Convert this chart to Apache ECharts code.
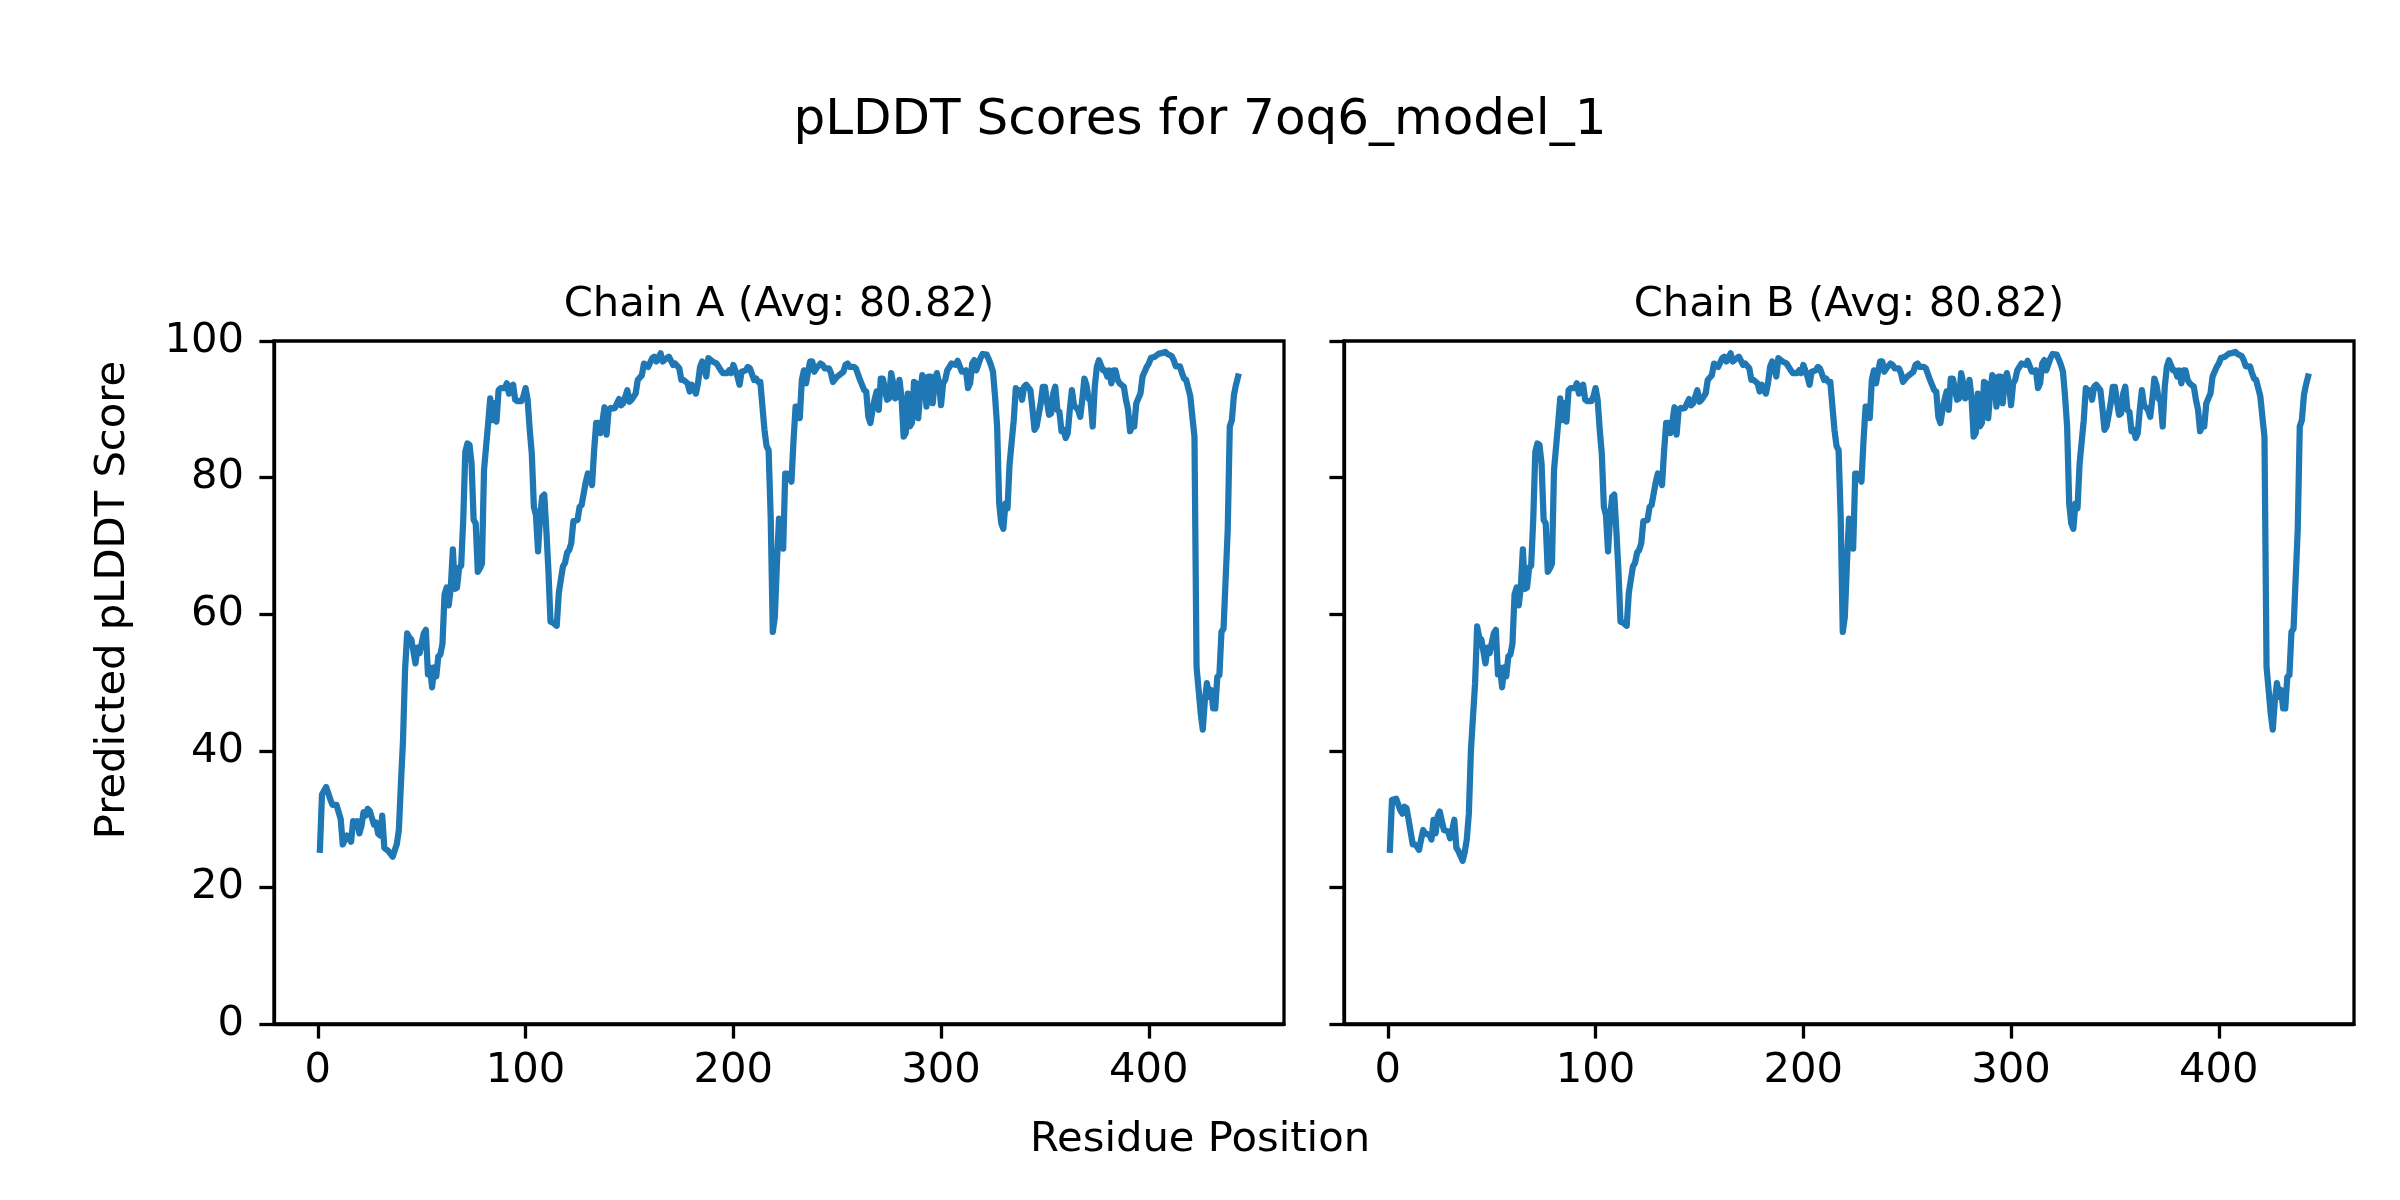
<!DOCTYPE html>
<html>
<head>
<meta charset="utf-8">
<script src="https://cdn.jsdelivr.net/npm/echarts@6/dist/echarts.min.js"></script>
<style>
  html, body { margin: 0; padding: 0; background: #fff; }
  #chart { width: 2400px; height: 1200px; }
</style>
</head>
<body>
<div id="chart"></div>
<script>
// ---- Data ----
const figureTitle = 'pLDDT Scores for 7oq6_model_1';
const chainTitles = ['Chain A (Avg: 80.82)', 'Chain B (Avg: 80.82)'];
const xAxisLabel = 'Residue Position';
const yAxisLabel = 'Predicted pLDDT Score';
const xTicks = [0, 100, 200, 300, 400];
const yTicks = [0, 20, 40, 60, 80, 100];

// Chain A: residue positions and pLDDT scores (vertices of the trace)
const residuesA = [
  1,2,4,6,7,9,11,12,14,16,17,18,19,20,21,22,23,24,25,27,28,29,30,31,32,34,36,38,39,40,
  41,42,43,44,45,46,47,48,49,51,52,53,54,55,56,57,58,59,60,61,62,63,64,65,66,67,68,69,70,71,
  72,73,74,75,76,77,78,79,80,82,83,84,85,86,87,88,90,91,92,93,94,95,96,98,99,100,101,102,103,104,
  105,106,107,108,109,110,111,112,113,115,116,117,118,119,120,121,122,123,125,126,127,128,129,130,131,132,133,134,135,136,
  137,138,139,140,141,142,143,145,146,147,149,150,151,153,154,156,157,159,161,162,163,165,166,168,169,171,172,174,175,176,
  178,179,180,182,183,184,185,187,188,190,192,194,195,197,198,199,200,202,203,204,206,207,208,210,211,212,213,214,215,216,
  217,218,219,220,221,222,223,224,225,226,228,229,230,231,232,233,234,235,236,237,238,239,240,242,243,244,246,247,248,250,
  251,253,254,255,256,258,259,261,263,264,265,266,267,268,269,270,271,272,274,275,276,277,278,279,280,281,282,283,284,285,
  286,287,288,289,290,291,292,293,294,295,296,297,298,299,300,301,302,303,305,307,308,310,311,312,313,314,315,316,317,319,
  320,322,323,324,325,326,327,328,329,330,331,332,333,335,336,337,338,339,340,341,343,344,345,346,348,349,350,351,352,353,
  354,355,356,357,358,359,360,361,362,363,364,366,367,368,369,370,371,372,373,374,375,376,378,379,380,381,382,383,384,385,
  386,388,389,390,391,392,393,394,396,397,398,399,400,401,403,405,406,408,409,411,412,413,415,416,417,418,420,421,422,423,
  424,425,426,427,428,429,430,431,432,433,434,435,436,438,439,440,441,442,443
];
const scoresA = [
  25.5,33.6,34.7,32.9,32.1,32.1,30.0,26.3,27.6,26.7,29.7,29.0,29.7,27.9,29.0,31.0,30.5,31.5,31.2,29.2,29.5,27.9,27.6,30.5,25.8,25.3,24.5,26.3,28.4,35.2,
  41.5,51.9,57.2,56.6,56.3,54.6,52.8,55.1,54.3,57.2,57.7,51.2,52.2,49.3,52.2,50.9,53.8,54.1,55.7,62.9,63.9,61.3,63.9,69.5,63.7,63.9,66.8,67.1,73.9,83.8,
  85.0,84.8,82.1,73.8,73.3,66.2,66.7,67.4,81.1,88.0,91.6,88.4,90.9,88.2,92.8,93.1,93.1,93.8,92.3,93.3,93.6,91.4,91.2,91.2,91.9,93.1,91.4,87.0,83.5,75.7,
  74.5,69.2,74.3,77.2,77.5,72.3,66.4,58.9,58.8,58.3,63.1,65.1,67.0,67.5,69.0,69.4,70.4,73.6,73.8,75.7,76.0,77.7,79.4,80.6,80.1,78.9,84.0,88.0,88.0,86.5,
  88.2,90.3,86.3,89.9,90.2,90.1,90.2,91.5,90.6,90.9,92.8,91.1,91.4,92.3,94.3,95.0,96.7,96.2,97.5,97.7,97.0,98.2,97.0,97.5,97.7,96.5,96.7,96.0,94.3,94.3,
  93.8,92.6,93.6,92.3,93.8,96.2,97.0,94.8,97.5,97.0,96.7,95.7,95.3,95.3,95.7,95.3,96.5,94.8,93.6,95.5,95.7,96.2,96.0,94.3,94.5,94.0,94.0,90.5,87.0,84.6,
  84.0,74.2,57.4,59.6,67.4,74.0,72.3,69.6,80.6,80.6,79.4,85.5,90.4,90.4,88.7,94.3,95.7,93.8,95.5,97.0,97.0,95.5,96.0,96.7,96.5,96.0,96.0,95.3,94.0,94.8,
  95.0,95.5,96.5,96.7,96.2,96.2,96.0,94.3,92.8,92.6,88.9,88.0,89.9,91.4,92.6,89.9,94.5,94.5,91.4,91.6,95.3,93.8,91.6,91.9,94.3,91.6,86.0,86.5,92.3,87.5,
  88.0,94.0,93.8,88.7,92.5,95.0,94.5,90.4,94.8,94.8,90.9,94.3,95.3,93.8,90.6,93.8,94.3,95.7,96.7,96.5,97.1,95.5,95.5,95.7,93.1,93.8,96.7,97.2,95.7,97.5,
  98.1,98.0,97.3,96.5,95.5,91.9,87.5,76.2,73.3,72.5,76.2,75.5,82.0,88.4,93.1,92.6,92.8,91.4,93.3,93.6,92.8,90.1,87.0,87.5,90.9,93.3,93.3,91.1,89.2,89.4,
  92.3,93.3,89.9,89.6,86.8,87.0,85.8,86.5,90.0,92.8,90.6,89.9,88.9,91.4,94.5,93.6,91.6,91.2,87.5,93.3,96.2,97.2,95.7,95.7,94.8,95.7,93.8,95.7,95.7,94.3,
  93.8,93.3,91.4,90.0,86.8,87.5,87.5,90.9,92.3,94.8,95.5,96.2,96.7,97.5,97.7,98.2,98.2,98.4,98.1,97.8,97.2,96.3,96.3,95.3,94.5,94.3,91.9,88.9,86.0,52.3,
  48.9,45.5,43.1,47.4,49.9,47.9,48.9,46.2,46.2,50.8,51.1,57.4,57.9,72.3,87.5,88.4,92.1,93.6,94.8
];

// Chain B: the N-terminal stretch differs from chain A; after residue 43 it follows chain A
const residuesBStart = [1,2,4,6,7,8,9,10,12,13,14,15,16,17,18,20,21,22,23,24,25,26,27,29,30,31,32,33,34,35,36,37,38,39,40,42,43];
const scoresBStart = [25.5,32.8,33.0,31.3,30.8,31.8,31.6,29.9,26.3,26.3,26.0,25.5,27.0,28.4,27.9,27.7,27.0,29.9,27.9,30.4,31.1,29.7,28.4,28.2,27.2,28.4,29.9,25.8,25.3,24.6,23.9,25.1,27.0,30.8,40.1,49.9,58.2];

// ---- Build series data ----
const dataA = residuesA.map((r, i) => [r, scoresA[i]]);
const dataB = residuesBStart.map((r, i) => [r, scoresBStart[i]])
  .concat(residuesA.map((r, i) => [r, scoresA[i]]).filter(p => p[0] > 43));

const FONT = 'DejaVu Sans';
const TICK_FS = 41.7;
const LINE_W = 3.3;

function xAxisCfg(gridIndex) {
  return {
    type: 'value', gridIndex,
    min: -21.1, max: 465.1,
    axisLine: { show: true, onZero: false, lineStyle: { color: '#000', width: LINE_W } },
    axisTick: { show: true, length: 14.6, lineStyle: { color: '#000', width: LINE_W }, customValues: xTicks },
    axisLabel: { show: true, color: '#000', fontFamily: FONT, fontSize: TICK_FS, margin: 26, customValues: xTicks },
    splitLine: { show: false }
  };
}
function yAxisCfg(gridIndex, showLabels) {
  return {
    type: 'value', gridIndex,
    min: 0, max: 100, interval: 20,
    axisLine: { show: true, onZero: false, lineStyle: { color: '#000', width: LINE_W } },
    axisTick: { show: true, length: 14.6, lineStyle: { color: '#000', width: LINE_W } },
    axisLabel: { show: showLabels, color: '#000', fontFamily: FONT, fontSize: TICK_FS, margin: 30 },
    splitLine: { show: false }
  };
}

const chart = echarts.init(document.getElementById('chart'), null, { renderer: 'canvas' });
chart.setOption({
  animation: false,
  backgroundColor: '#ffffff',
  textStyle: { fontFamily: FONT },
  grid: [
    { left: 274, top: 341, width: 1010, height: 683, show: true, borderColor: '#000', borderWidth: LINE_W, backgroundColor: 'transparent' },
    { left: 1344, top: 341, width: 1010, height: 683, show: true, borderColor: '#000', borderWidth: LINE_W, backgroundColor: 'transparent' }
  ],
  xAxis: [xAxisCfg(0), xAxisCfg(1)],
  yAxis: [yAxisCfg(0, true), yAxisCfg(1, false)],
  graphic: [
    { type: 'text', x: 1200, y: 121, style: { text: figureTitle, fontFamily: FONT, fontSize: 50, fill: '#000', textAlign: 'center', textVerticalAlign: 'middle' } },
    { type: 'text', x: 779, y: 305, style: { text: chainTitles[0], fontFamily: FONT, fontSize: 41.7, fill: '#000', textAlign: 'center', textVerticalAlign: 'middle' } },
    { type: 'text', x: 1849, y: 305, style: { text: chainTitles[1], fontFamily: FONT, fontSize: 41.7, fill: '#000', textAlign: 'center', textVerticalAlign: 'middle' } },
    { type: 'text', x: 1200, y: 1140, style: { text: xAxisLabel, fontFamily: FONT, fontSize: 41.7, fill: '#000', textAlign: 'center', textVerticalAlign: 'middle' } },
    { type: 'text', x: 113, y: 600, rotation: Math.PI / 2, style: { text: yAxisLabel, fontFamily: FONT, fontSize: 41.7, fill: '#000', textAlign: 'center', textVerticalAlign: 'middle' } }
  ],
  series: [
    { type: 'line', xAxisIndex: 0, yAxisIndex: 0, data: dataA, showSymbol: false, symbol: 'none', clip: true,
      lineStyle: { color: '#1f77b4', width: 6.25, join: 'round', cap: 'square' } },
    { type: 'line', xAxisIndex: 1, yAxisIndex: 1, data: dataB, showSymbol: false, symbol: 'none', clip: true,
      lineStyle: { color: '#1f77b4', width: 6.25, join: 'round', cap: 'square' } }
  ]
});
</script>
</body>
</html>
